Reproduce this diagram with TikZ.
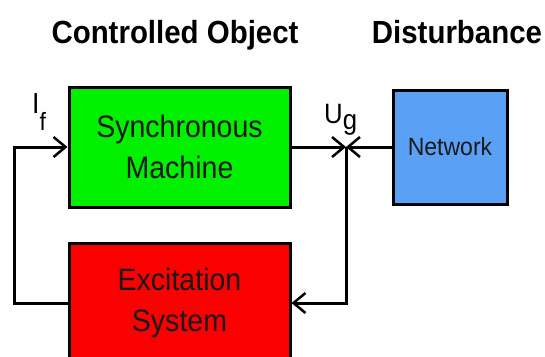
\documentclass[tikz,border=0pt]{standalone}
\usepackage{fontspec}
\setmainfont{Liberation Sans}[FakeStretch=0.92]
\usetikzlibrary{arrows.meta}

\definecolor{machinegreen}{RGB}{0,240,0}
\definecolor{excitred}{RGB}{250,0,0}
\definecolor{netblue}{RGB}{90,160,245}

\tikzset{
  blockbox/.style={draw=black, line width=3pt, minimum width=221pt, minimum height=120pt,
    align=center, text=black!90, font=\fontsize{31}{41}\selectfont},
  signal/.style={line width=3pt, -{Straight Barb[length=12pt,width=20pt,line width=2.5pt]}},
  heading/.style={font=\bfseries\fontsize{32}{32}\selectfont, anchor=base},
  siglabel/.style={anchor=base west, inner sep=0pt, font=\fontsize{29}{29}\selectfont}
}

\begin{document}
\begin{tikzpicture}[x=1pt, y=-1pt]
\useasboundingbox (0,0) rectangle (545,356);

% titles
\node[heading] (cotitle) at (175,43) {Controlled Object};
\node[heading] (dtitle) at (457,43) {Disturbance};

% blocks
\node[blockbox, fill=machinegreen] (sm) at (179.5,147) {Synchronous\\Machine};
\node[blockbox, fill=excitred] (es) at (179.5,303) {Excitation\\System};
\node[blockbox, fill=netblue, minimum width=114pt, minimum height=114pt,
  font=\fontsize{25}{25}\selectfont] (net) at (450,147) {Network};

% junction and feedback corner
\coordinate (ug) at (346,147);
\coordinate (fbcorner) at (14,303);

% connectors
\draw[signal] (sm.east) -- (ug);
\draw[signal] (net.west) -- (ug);
\draw[signal] (ug) |- (es.east);
\draw[signal] (es.west) -- (fbcorner) |- (sm.west);

% signal labels
\node[siglabel] (iflabel) at (32,113) {I\raisebox{-17pt}{\fontsize{25}{25}\selectfont f}};
\node[siglabel, font=\fontsize{28}{28}\selectfont] (uglabel) at (324,123) {U\raisebox{-6pt}{g}};
\end{tikzpicture}
\end{document}
